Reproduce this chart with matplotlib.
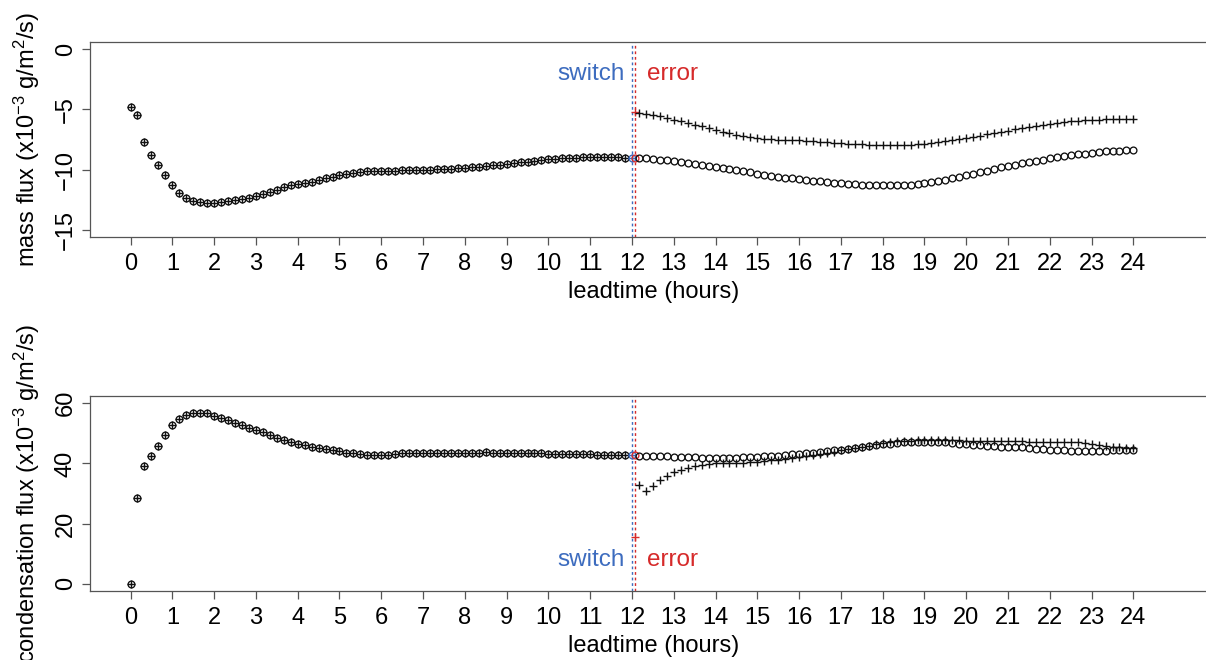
import numpy as np
import matplotlib
matplotlib.use('Agg')
import matplotlib.pyplot as plt

plt.rcParams['font.family'] = ['Liberation Sans', 'DejaVu Sans']
plt.rcParams['mathtext.fontset'] = 'custom'
plt.rcParams['mathtext.rm'] = 'Liberation Sans'
plt.rcParams['mathtext.it'] = 'Liberation Sans:italic'

#%% DATA
# leadtime in minutes, output every 10 minutes
lead_pre_min = np.arange(0, 721, 10)          # 0h .. 12h (shared by both runs)
lead_post_min = np.arange(730, 1441, 10)      # 12h10 .. 24h
switch_min = 720                              # switch at 12h
error_min = 725                               # first step after the error

### mass flux (x1e-3 g/m2/s)
mass_pre = [
    -4.78, -5.47, -7.72, -8.82, -9.62, -10.47,
    -11.26, -11.92, -12.36, -12.61, -12.72, -12.77,
    -12.75, -12.66, -12.58, -12.50, -12.42, -12.34,
    -12.20, -12.06, -11.87, -11.68, -11.48, -11.32,
    -11.21, -11.10, -11.02, -10.88, -10.71, -10.58,
    -10.44, -10.33, -10.25, -10.19, -10.14, -10.11,
    -10.10, -10.09, -10.08, -10.07, -10.06, -10.04,
    -10.02, -10.00, -9.98, -9.95, -9.92, -9.88,
    -9.84, -9.80, -9.76, -9.71, -9.66, -9.61,
    -9.55, -9.48, -9.41, -9.34, -9.27, -9.20,
    -9.14, -9.09, -9.05, -9.02, -9.00, -8.98,
    -8.97, -8.97, -8.97, -8.98, -8.99, -9.01,
    -9.03]
mass_err_circle = -9.05
mass_err_plus = -5.22
mass_circle_post = [
    -9.04, -9.07, -9.12, -9.17, -9.23, -9.29,
    -9.35, -9.43, -9.51, -9.60, -9.68, -9.77,
    -9.86, -9.95, -10.05, -10.14, -10.23, -10.33,
    -10.41, -10.50, -10.58, -10.66, -10.73, -10.79,
    -10.85, -10.91, -10.97, -11.03, -11.08, -11.13,
    -11.17, -11.21, -11.24, -11.27, -11.29, -11.31,
    -11.32, -11.32, -11.30, -11.26, -11.20, -11.12,
    -11.04, -10.94, -10.83, -10.71, -10.58, -10.45,
    -10.33, -10.21, -10.08, -9.95, -9.82, -9.70,
    -9.59, -9.48, -9.37, -9.27, -9.17, -9.07,
    -8.97, -8.89, -8.81, -8.74, -8.67, -8.60,
    -8.54, -8.49, -8.45, -8.42, -8.40, -8.38]
mass_plus_post = [
    -5.33, -5.40, -5.48, -5.58, -5.70, -5.84,
    -5.97, -6.10, -6.26, -6.41, -6.55, -6.70,
    -6.84, -6.97, -7.09, -7.19, -7.28, -7.36,
    -7.42, -7.47, -7.51, -7.54, -7.56, -7.58,
    -7.61, -7.64, -7.68, -7.72, -7.76, -7.80,
    -7.84, -7.87, -7.90, -7.93, -7.95, -7.97,
    -7.98, -7.98, -7.97, -7.94, -7.90, -7.85,
    -7.79, -7.72, -7.64, -7.55, -7.46, -7.37,
    -7.27, -7.17, -7.07, -6.96, -6.86, -6.76,
    -6.66, -6.56, -6.46, -6.37, -6.28, -6.20,
    -6.12, -6.06, -6.00, -5.96, -5.92, -5.88,
    -5.85, -5.82, -5.80, -5.79, -5.78, -5.77]

### condensation flux (x1e-3 g/m2/s)
cond_pre = [
    0.0, 28.5, 39.3, 42.3, 45.7, 49.6,
    52.8, 54.8, 56.2, 56.9, 56.9, 56.6,
    55.9, 55.1, 54.4, 53.5, 52.8, 51.9,
    51.2, 50.3, 49.4, 48.5, 47.8, 47.2,
    46.6, 46.1, 45.5, 45.2, 44.8, 44.3,
    44.0, 43.6, 43.3, 43.0, 42.9, 42.9,
    42.8, 42.9, 43.1, 43.3, 43.4, 43.5,
    43.5, 43.6, 43.6, 43.6, 43.6, 43.6,
    43.6, 43.6, 43.6, 43.7, 43.6, 43.6,
    43.5, 43.5, 43.4, 43.4, 43.3, 43.3,
    43.2, 43.2, 43.1, 43.1, 43.0, 43.0,
    43.0, 42.9, 42.9, 42.9, 42.8, 42.8,
    42.8]
cond_err_circle = 42.8
cond_err_plus = 15.5
cond_circle_post = [
    42.6, 42.5, 42.5, 42.4, 42.3, 42.2,
    42.1, 42.1, 42.0, 41.9, 41.8, 41.8,
    41.8, 41.8, 41.9, 42.0, 42.1, 42.2,
    42.3, 42.4, 42.6, 42.8, 43.0, 43.2,
    43.4, 43.6, 43.8, 44.0, 44.3, 44.5,
    44.8, 45.1, 45.4, 45.7, 46.1, 46.4,
    46.6, 46.8, 47.0, 47.1, 47.2, 47.2,
    47.2, 47.1, 47.0, 46.8, 46.6, 46.4,
    46.2, 46.1, 45.9, 45.8, 45.6, 45.5,
    45.4, 45.3, 45.1, 44.9, 44.7, 44.5,
    44.4, 44.3, 44.2, 44.2, 44.2, 44.2,
    44.2, 44.2, 44.3, 44.3, 44.4, 44.5]
cond_plus_post = [
    32.8, 30.9, 32.6, 34.5, 35.9, 37.0,
    37.8, 38.4, 39.2, 39.5, 39.8, 40.0,
    40.1, 40.2, 40.2, 40.3, 40.4, 40.6,
    40.8, 41.0, 41.2, 41.5, 41.8, 42.1,
    42.4, 42.8, 43.1, 43.5, 43.9, 44.3,
    44.7, 45.1, 45.5, 45.9, 46.3, 46.7,
    47.0, 47.3, 47.5, 47.6, 47.7, 47.8,
    47.8, 47.8, 47.8, 47.7, 47.7, 47.6,
    47.6, 47.5, 47.5, 47.4, 47.4, 47.3,
    47.3, 47.3, 47.2, 47.2, 47.2, 47.2,
    47.2, 47.2, 47.2, 47.1, 46.8, 46.4,
    46.1, 45.8, 45.6, 45.4, 45.2, 45.1]

hour_ticks = list(range(0, 25))
mass_ticks = [-15, -10, -5, 0]
cond_ticks = [0, 20, 40, 60]

#%% STYLE
blue = '#3d6cbf'
red = '#d62a2a'
mk_col = '#111111'
axis_col = '#555555'
fs = 17

fig = plt.figure(figsize=(12.06, 6.6), dpi=100)
ax1 = fig.add_axes([90/1206, 1 - 237/660, 1127/1206, 195/660])
ax2 = fig.add_axes([90/1206, 1 - 591/660, 1127/1206, 195/660])


def panel(ax, pre, err_c, err_p, circ_post, plus_post, ylim, yticks, ylabel, text_y):
    h_pre = lead_pre_min / 60.
    h_post = lead_post_min / 60.
    h_sw = switch_min / 60.
    h_err = error_min / 60.
    circ = dict(ls='none', marker='o', ms=4.9, mfc='none', mew=0.95)
    plus = dict(ls='none', marker='+', ms=6.2, mew=1.0)
    ### vertical markers
    ax.axvline(h_sw, color=blue, ls=(0, (2, 2)), lw=1.0, zorder=1)
    ax.axvline(h_err, color=red, ls=(0, (2, 2)), lw=1.0, zorder=1)
    ### shared part, both runs identical
    ax.plot(h_pre[:-1], pre[:-1], mec=mk_col, **circ)
    ax.plot(h_pre[:-1], pre[:-1], mec=mk_col, **plus)
    ax.plot(h_pre[-1:], pre[-1:], mec=blue, **circ)
    ax.plot(h_pre[-1:], pre[-1:], mec=blue, **plus)
    ### error step
    ax.plot([h_err], [err_c], mec=red, **circ)
    ax.plot([h_err], [err_p], mec=red, **plus)
    ### after switch
    ax.plot(h_post, circ_post, mec=mk_col, **circ)
    ax.plot(h_post, plus_post, mec=mk_col, **plus)

    ax.text(h_sw - 0.17, text_y, 'switch', color=blue, fontsize=17.5, ha='right', va='center')
    ax.text(h_err + 0.27, text_y, 'error', color=red, fontsize=17.5, ha='left', va='center')

    ax.set_xlim(-0.97, 26.0)
    ax.set_ylim(*ylim)
    ax.set_xticks(hour_ticks)
    ax.set_xticklabels([str(h) for h in hour_ticks])
    ax.set_yticks(yticks)
    ax.set_yticklabels([str(v).replace('-', '\u2212') for v in yticks], rotation=90, va='center')
    ax.tick_params(axis='both', direction='out', length=5.5, width=0.9, color=axis_col,
                   labelsize=fs, labelcolor='black')
    ax.tick_params(axis='x', pad=6)
    ax.tick_params(axis='y', pad=4)
    for s in ax.spines.values():
        s.set_color(axis_col)
        s.set_linewidth(0.9)
    ax.spines['right'].set_visible(False)
    ax.set_xlabel('leadtime (hours)', fontsize=fs, labelpad=4)
    ax.set_ylabel(ylabel, fontsize=fs)
    ax.yaxis.set_label_coords(-0.043, 0.5)


panel(ax1, mass_pre, mass_err_circle, mass_err_plus, mass_circle_post, mass_plus_post,
      (-15.6, 0.6), mass_ticks, 'mass flux (x10$^{-3}$ g/m$^2$/s)', -2.03)
panel(ax2, cond_pre, cond_err_circle, cond_err_plus, cond_circle_post, cond_plus_post,
      (-2.4, 62.4), cond_ticks, 'condensation flux (x10$^{-3}$ g/m$^2$/s)', 7.95)

fig.savefig('out.png', dpi=100)
